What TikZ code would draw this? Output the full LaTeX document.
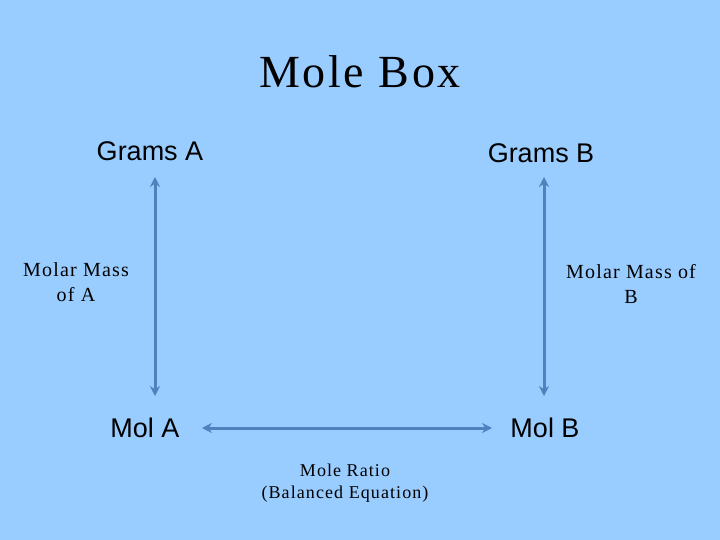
\documentclass[tikz,border=0pt]{standalone}
\usepackage{fontspec}
\setmainfont{Liberation Serif}
\setsansfont{Liberation Sans}
\newfontfamily\wideserif[LetterSpace=6]{Liberation Serif}
\usetikzlibrary{arrows.meta}
\definecolor{bg}{HTML}{99CCFF}
\definecolor{arr}{HTML}{4F81BD}
\begin{document}
\begin{tikzpicture}[x=1pt,y=-1pt,
  big/.style={font=\sffamily\fontsize{27}{29}\selectfont},
  small/.style={font=\wideserif\fontsize{20}{25}\selectfont,align=center},
  link/.style={draw=arr,line width=3pt,{Stealth[length=10pt,width=10pt]}-{Stealth[length=10pt,width=10pt]}}]
\fill[bg] (0,0) rectangle (720,540);
\node (title) at (360,72) {\wideserif\fontsize{46}{48}\selectfont Mole Box};
\node[big] (ga) at (150,151) {Grams A};
\node[big] (gb) at (541,153) {Grams B};
\node[big] (ma) at (145,428) {Mol A};
\node[big] (mb) at (545,428) {Mol B};
\node[small] (mma) at (76,282) {Molar Mass\\of A};
\node[small] (mmb) at (631,284) {Molar Mass of\\B};
\node[small,font=\wideserif\fontsize{18}{22}\selectfont] (mr) at (345,483) {Mole Ratio\\(Balanced Equation)};
\coordinate (a1) at (155,177); \coordinate (a2) at (155,396);
\coordinate (b1) at (544,177); \coordinate (b2) at (544,396);
\coordinate (c1) at (202,428); \coordinate (c2) at (492,428);
\draw[link] (a1) -- (a2);
\draw[link] (b1) -- (b2);
\draw[link] (c1) -- (c2);
\end{tikzpicture}
\end{document}
